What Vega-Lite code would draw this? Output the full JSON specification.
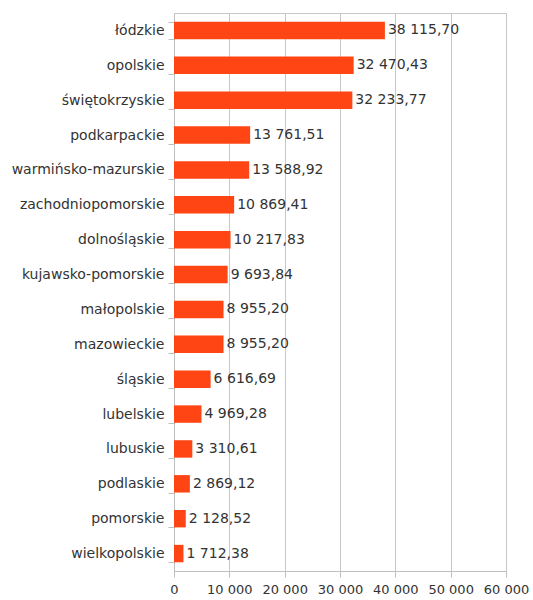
{
  "$schema": "https://vega.github.io/schema/vega-lite/v6.json",
  "width": 332,
  "height": 558,
  "padding": {"left": 11, "top": 6, "right": 5, "bottom": 5},
  "background": "white",
  "config": {
    "locale": {"number": {"decimal": ",", "thousands": " ", "grouping": [3], "currency": ["", ""]}},
    "font": "DejaVu Sans",
    "view": {"stroke": "#c8c8c8", "strokeWidth": 1},
    "axis": {"labelFont": "DejaVu Sans", "labelColor": "#333333", "domainColor": "#bfbfbf", "tickColor": "#bfbfbf", "gridColor": "#c8c8c8"}
  },
  "data": {
    "values": [
      {"region": "łódzkie", "value": 38115.70},
      {"region": "opolskie", "value": 32470.43},
      {"region": "świętokrzyskie", "value": 32233.77},
      {"region": "podkarpackie", "value": 13761.51},
      {"region": "warmińsko-mazurskie", "value": 13588.92},
      {"region": "zachodniopomorskie", "value": 10869.41},
      {"region": "dolnośląskie", "value": 10217.83},
      {"region": "kujawsko-pomorskie", "value": 9693.84},
      {"region": "małopolskie", "value": 8955.20},
      {"region": "mazowieckie", "value": 8955.20},
      {"region": "śląskie", "value": 6616.69},
      {"region": "lubelskie", "value": 4969.28},
      {"region": "lubuskie", "value": 3310.61},
      {"region": "podlaskie", "value": 2869.12},
      {"region": "pomorskie", "value": 2128.52},
      {"region": "wielkopolskie", "value": 1712.38}
    ]
  },
  "encoding": {
    "y": {
      "field": "region", "type": "nominal", "sort": null, "title": null,
      "scale": {"paddingInner": 0.5, "paddingOuter": 0.25},
      "axis": {"tickBand": "extent", "tickSize": 6, "labelPadding": 4, "labelFontSize": 14, "grid": false, "domain": true}
    },
    "x": {
      "field": "value", "type": "quantitative", "title": null,
      "scale": {"domain": [0, 60000], "nice": false},
      "axis": {"values": [0, 10000, 20000, 30000, 40000, 50000, 60000], "format": ",d", "tickSize": 6, "labelPadding": 6, "labelFontSize": 13, "labelOverlap": false, "labelFlush": false, "labelBound": false, "grid": true}
    }
  },
  "layer": [
    {"mark": {"type": "bar", "color": "#ff4514"}},
    {"mark": {"type": "text", "align": "left", "baseline": "middle", "dx": 3, "fontSize": 14, "font": "DejaVu Sans", "color": "#333333"},
     "encoding": {"text": {"field": "value", "type": "quantitative", "format": ",.2f"}}}
  ]
}
